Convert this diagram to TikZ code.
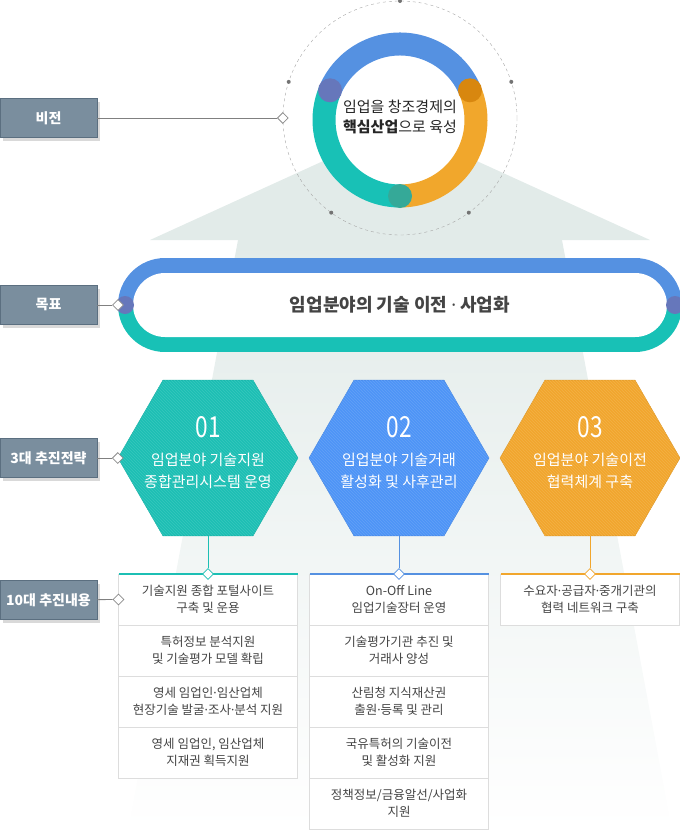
\documentclass[tikz,border=0pt]{standalone}
\usepackage{fontspec}
\setmainfont{Noto Sans CJK KR}
\newfontfamily\numfont[FakeStretch=0.78]{Noto Sans CJK KR}
\newfontfamily\latinfont{Noto Sans}
\newcommand{\md}{{\latinfont ·}}
\usetikzlibrary{positioning,shapes.geometric,patterns,shadows}

\definecolor{tagfill}{HTML}{7A8E9E}
\definecolor{tagline}{HTML}{5B6F80}
\definecolor{bgarrow}{HTML}{E2EBE9}
\definecolor{ringblue}{HTML}{5591E1}
\definecolor{ringteal}{HTML}{18C1B6}
\definecolor{ringorange}{HTML}{F1A72C}
\definecolor{jointblue}{HTML}{6677BB}
\definecolor{jointorange}{HTML}{D8870F}
\definecolor{jointteal}{HTML}{35A998}
\definecolor{hexteal}{HTML}{1CBFB4}
\definecolor{hexblue}{HTML}{4E94F6}
\definecolor{hexorange}{HTML}{F1A62D}
\definecolor{cellline}{HTML}{DDDDDD}
\definecolor{textgray}{HTML}{444444}

\begin{document}
\begin{tikzpicture}[x=1pt,y=-1pt,
  tag/.style={rectangle,fill=tagfill,draw=tagline,text=white,minimum width=97pt,minimum height=39pt,inner sep=0pt,
    font=\fontsize{14}{16}\selectfont\bfseries,
    drop shadow={shadow xshift=3pt,shadow yshift=-3pt,fill=black!15,opacity=1}},
  dia/.style={diamond,draw=#1,fill=white,minimum size=11pt,inner sep=0pt,line width=0.8pt},
  gline/.style={draw=black!50,line width=0.8pt},
  hexa/.style={regular polygon,regular polygon sides=6,minimum size=180pt,inner sep=0pt,fill=#1,draw=#1!90!black,
    postaction={pattern=north west lines,pattern color=white!12!#1}},
  num/.style={text=white,font=\numfont\fontsize{29}{30}\selectfont},
  htxt/.style={text=white,align=center,font=\fontsize{15}{22}\selectfont},
  cell/.style={rectangle,draw=cellline,fill=white,minimum width=179pt,minimum height=51pt,inner sep=0pt,outer sep=0pt,
    align=center,text=textgray,font=\fontsize{12.5}{17.5}\selectfont}
]
\useasboundingbox (0,0) rectangle (680,830);

% background arrow
\fill[bgarrow] (150,240) -- (400,126) -- (650,240) -- cycle;
\shade[top color=bgarrow,middle color=bgarrow!55!white,bottom color=white] (238,240) -- (562,240) -- (672,830) -- (128,830) -- cycle;

% vision
\node[circle,draw=black!35,dashed,minimum size=234pt,inner sep=0pt] (vring) at (400,118) {};
\foreach \a in {18,90,162,234,306}
  \fill[black!55] (vring.center) ++(\a:117pt) circle (2pt);
\fill[white] (400,120) circle (65pt);
\draw[line width=23pt,ringblue] (400,120) ++(23:76pt) arc[start angle=23,end angle=157,radius=76pt];
\draw[line width=23pt,ringteal] (400,120) ++(157:76pt) arc[start angle=157,end angle=270,radius=76pt];
\draw[line width=23pt,ringorange] (400,120) ++(-90:76pt) arc[start angle=-90,end angle=23,radius=76pt];
\foreach \a/\c in {157/jointblue,23/jointorange,270/jointteal}
  \fill[\c] (400,120) ++(\a:76pt) circle (12pt);
\node[align=center,text=black!85,font=\fontsize{15}{20}\selectfont] (core) at (400,117) {임업을 창조경제의\\\textbf{핵심산업}으로 육성};

% goal
\begin{scope}
  \clip[rounded corners=47pt] (118,258) rectangle (682,352);
  \fill[ringblue] (118,258) rectangle (682,305);
  \fill[ringteal] (118,305) rectangle (682,352);
\end{scope}
\node[rectangle,fill=white,rounded corners=32pt,minimum width=534pt,minimum height=64pt,text=textgray,
  font=\fontsize{18}{20}\selectfont\bfseries] (bar) at (400,305) {임업분야의 기술 이전 \md{} 사업화};
\fill[jointblue] (125,305) circle (9pt);
\fill[jointblue] (675,305) circle (9pt);

% strategies
\node[hexa=hexteal] (s1) at (208,458) {};
\node[hexa=hexblue] (s2) at (399,458) {};
\node[hexa=hexorange] (s3) at (590,458) {};
\foreach \s/\n/\t in {s1/01/{임업분야 기술지원\\종합관리시스템 운영},
                      s2/02/{임업분야 기술거래\\활성화 및 사후관리},
                      s3/03/{임업분야 기술이전\\협력체계 구축}}{
  \node[num] (\s n) at ([yshift=31pt]\s.center) {\n};
  \node[htxt] (\s t) at ([yshift=-13pt]\s.center) {\t};
}

% contents
\node[cell] (c11) at (208,599.5) {기술지원 종합 포털사이트\\구축 및 운용};
\node[cell,below=0pt of c11] (c12) {특허정보 분석지원\\및 기술평가 모델 확립};
\node[cell,below=0pt of c12] (c13) {영세 임업인\md 임산업체\\현장기술 발굴\md 조사\md 분석 지원};
\node[cell,below=0pt of c13] (c14) {영세 임업인, 임산업체\\지재권 획득지원};

\node[cell] (c21) at (399,599.5) {On-Off Line\\임업기술장터 운영};
\node[cell,below=0pt of c21] (c22) {기술평가기관 추진 및\\거래사 양성};
\node[cell,below=0pt of c22] (c23) {산림청 지식재산권\\출원\md 등록 및 관리};
\node[cell,below=0pt of c23] (c24) {국유특허의 기술이전\\및 활성화 지원};
\node[cell,below=0pt of c24] (c25) {정책정보/금융알선/사업화\\지원};

\node[cell] (c31) at (590,599.5) {수요자\md 공급자\md 중개기관의\\협력 네트워크 구축};

\draw[line width=2pt,hexteal] (c11.north west) -- (c11.north east);
\draw[line width=2pt,ringblue] (c21.north west) -- (c21.north east);
\draw[line width=2pt,hexorange] (c31.north west) -- (c31.north east);
\node[dia=hexteal] (d1) at (c11.north) {};
\node[dia=ringblue] (d2) at (c21.north) {};
\node[dia=hexorange] (d3) at (c31.north) {};
\draw[hexteal,line width=0.8pt] (s1) -- (d1);
\draw[ringblue,line width=0.8pt] (s2) -- (d2);
\draw[hexorange,line width=0.8pt] (s3) -- (d3);

% labels
\node[tag] (vision) at (48.5,118) {비전};
\node[tag] (goal) at (48.5,305) {목표};
\node[tag] (strat) at (48.5,458) {3대 추진전략};
\node[tag] (plan) at (48.5,600) {10대 추진내용};
\node[dia=black!45] (vd) at (vring.west) {};
\node[dia=black!45] (gd) at (bar.west -| 118,0) {};
\node[dia=black!45] (sd) at (s1.west) {};
\node[dia=black!45] (pd) at (c11.west) {};
\draw[gline] (vision) -- (vd);
\draw[gline] (goal) -- (gd);
\draw[gline] (strat) -- (sd);
\draw[gline] (plan) -- (pd);
\end{tikzpicture}
\end{document}
